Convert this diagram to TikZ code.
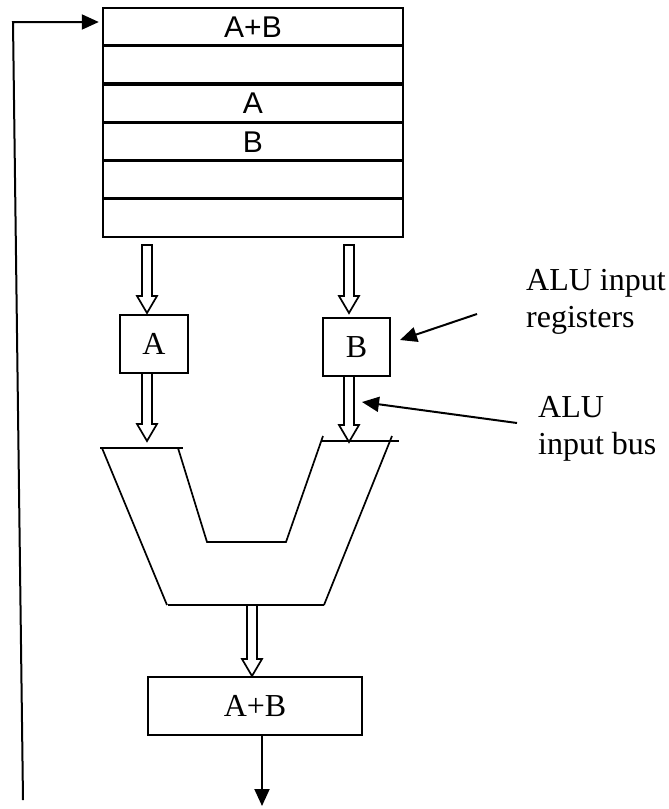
\documentclass[tikz,border=0pt]{standalone}
\usepackage{fontspec}
\setmainfont{Liberation Serif}
\newfontfamily\arialf{Liberation Sans}
\usetikzlibrary{arrows.meta,calc}
\newcommand\fatarrow[2]{%
  \draw[fat] let \p1=(#1), \p2=(#2) in
    (\x2-5pt,\y1) -- (\x2-5pt,\y2+17pt) -- (\x2-10pt,\y2+17pt) -- (\x2,\y2)
    -- (\x2+10pt,\y2+17pt) -- (\x2+5pt,\y2+17pt) -- (\x2+5pt,\y1) -- cycle;}
\begin{document}
\begin{tikzpicture}[x=1pt,y=-1pt,
  reg/.style={draw,line width=2.4pt,minimum width=300pt,minimum height=38.33pt,inner sep=0pt,
              font=\arialf\fontsize{30}{32}\selectfont},
  box/.style={draw,line width=2pt,inner sep=0pt,font=\fontsize{32}{34}\selectfont},
  fat/.style={draw,line width=1.7pt,fill=white,line join=miter},
  ptr/.style={line width=2pt,-{Triangle[length=17pt,width=15pt]}},
  lbl/.style={align=left,anchor=north west,inner sep=0pt,font=\fontsize{32}{37}\selectfont},
  alu/.style={line width=1.7pt}]
\useasboundingbox (0,0) rectangle (669,809);
% register file
\node[reg] (r1) at (253,27) {A+B};
\node[reg] (r2) at (253,64.5) {};
\node[reg] (r3) at (253,103.5) {A};
\node[reg] (r4) at (253,142) {B};
\node[reg] (r5) at (253,179.5) {};
\node[reg] (r6) at (253,217.83) {};
% ALU input registers
\node[box,minimum width=68pt,minimum height=58pt] (ra) at (154,344) {A};
\node[box,minimum width=67pt,minimum height=58pt] (rb) at (356.5,347) {B};
% output register
\node[box,minimum width=214pt,minimum height=58pt] (out) at (255,706) {A+B};
% fat arrows
\coordinate (s1) at (147,245); \coordinate (t1) at (147,313);
\coordinate (s2) at (349,245); \coordinate (t2) at (349,313);
\coordinate (s3) at (147,373); \coordinate (t3) at (147,441);
\coordinate (s4) at (349,376); \coordinate (t4) at (349,442);
\coordinate (s5) at (252,605); \coordinate (t5) at (252,676);
\fatarrow{s1}{t1}
\fatarrow{s2}{t2}
\fatarrow{s3}{t3}
\fatarrow{s4}{t4}
\fatarrow{s5}{t5}
% ALU shape
\draw[alu] (100,448) -- (183,448);
\draw[alu] (102,448) -- (167,605);
\draw[alu] (178,448) -- (207,542) -- (286,542) -- (323,436);
\draw[alu] (322,441) -- (399,441);
\draw[alu] (392,436) -- (324,605);
\draw[alu] (168,605) -- (324,605);
% labels
\node[lbl] (l1) at (526,269) {ALU input\\registers};
\node[lbl] (l2) at (538,396) {ALU\\input bus};
\coordinate (p1s) at (477,314); \coordinate (p1t) at (400,340);
\coordinate (p2s) at (517,423); \coordinate (p2t) at (362,402);
\draw[ptr] (p1s) -- (p1t);
\draw[ptr] (p2s) -- (p2t);
% output
\coordinate (oe) at (262,806);
\draw[ptr] (oe |- out.south) -- (oe);
% feedback
\coordinate (fb0) at (23,800);
\coordinate (fb1) at (13,22);
\draw[ptr,shorten >=3pt] (fb0) -- (fb1) -- (fb1 -| r1.west);
\end{tikzpicture}
\end{document}
